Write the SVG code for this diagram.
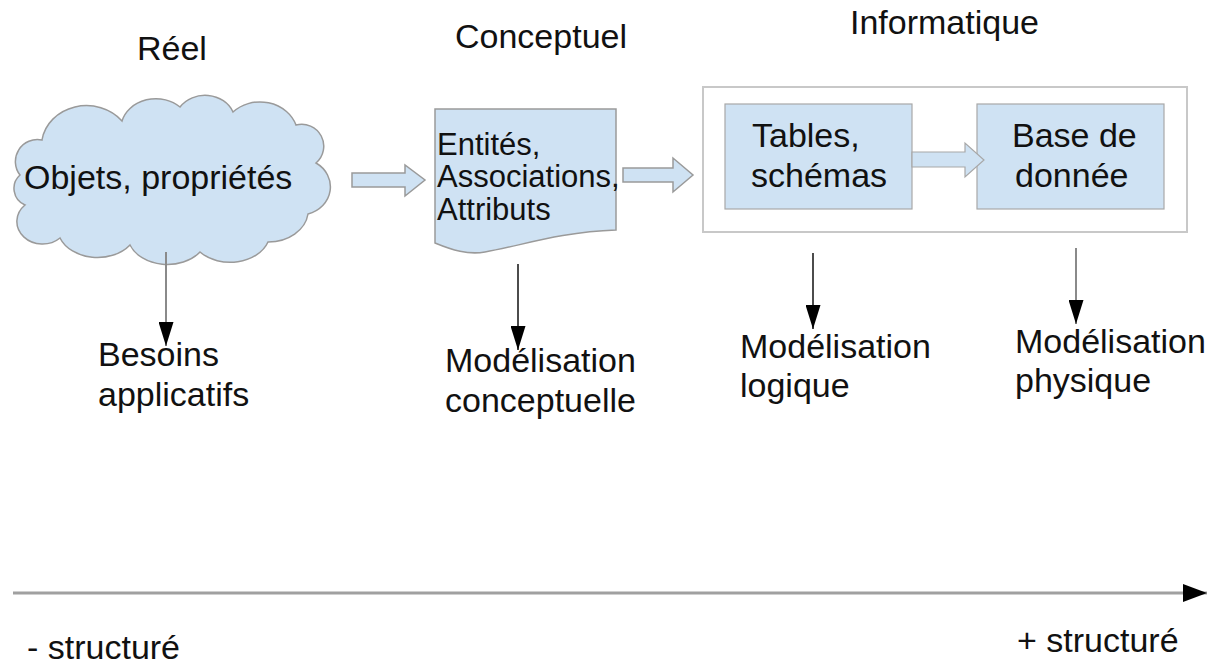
<svg xmlns="http://www.w3.org/2000/svg" width="1214" height="667" viewBox="0 0 1214 667">
  <defs>
    <style>
      text { font-family: "Liberation Sans", Arial, sans-serif; fill: #111; }
      .t34 { font-size: 34px; }
      .t31 { font-size: 31px; }
      .shape { fill: #cfe2f3; stroke: #9a9a9a; stroke-width: 1.5; }
      .box { fill: #cfe2f3; stroke: #a8a8a8; stroke-width: 1.2; }
      .frame { fill: #ffffff; stroke: #c8c8c8; stroke-width: 2; }
      .link { stroke: #111; stroke-width: 1.5; fill: none; }
      .link-grey { stroke: #8a8a8a; stroke-width: 2; fill: none; }
    </style>
    <marker id="tri" viewBox="0 0 24 15" refX="24" refY="7.5" markerWidth="24" markerHeight="15" markerUnits="userSpaceOnUse" orient="auto">
      <path d="M0,0 L24,7.5 L0,15 Z" fill="#000"/>
    </marker>
    <marker id="triAxis" viewBox="0 0 24 18" refX="24" refY="9" markerWidth="24" markerHeight="18" markerUnits="userSpaceOnUse" orient="auto">
      <path d="M0,0 L24,9 L0,18 Z" fill="#000"/>
    </marker>
  </defs>

  <!-- column headings -->
  <g id="headings">
    <text class="t34" x="137" y="60">Réel</text>
    <text class="t34" x="455" y="48">Conceptuel</text>
    <text class="t34" x="850" y="34">Informatique</text>
  </g>

  <!-- cloud: real-world objects -->
  <g id="node-reel">
    <path class="shape" d="M20,175
      A22,22 0 0 1 42,140
      A45,40 0 0 1 122,121
      A35,30 0 0 1 180,107
      A30,26 0 0 1 233,112
      A38,34 0 0 1 296,125
      A22,22 0 0 1 316,163
      A30,28 0 0 1 308,214
      A40,32 0 0 1 268,242
      A40,30 0 0 1 200,252
      A40,30 0 0 1 130,245
      A40,30 0 0 1 60,238
      A25,22 0 0 1 25,205
      A18,18 0 0 1 20,175 Z"/>
    <text class="t34" x="24" y="189">Objets, propriétés</text>
  </g>

  <!-- document: conceptual model -->
  <g id="node-conceptuel">
    <path class="shape" d="M435,109 H616 V230 C560,232 520,246 485,252 C468,255 452,250 435,243 Z"/>
    <text class="t31" x="437" y="155">Entités,</text>
    <text class="t31" x="437" y="187">Associations,</text>
    <text class="t31" x="437" y="220">Attributs</text>
  </g>

  <!-- computing frame -->
  <g id="node-informatique">
    <rect class="frame" x="703" y="87" width="484" height="145"/>
  </g>
  <g id="node-tables">
    <rect class="box" x="725" y="104" width="187" height="105"/>
    <text class="t34" x="752" y="147">Tables,</text>
    <text class="t34" x="751" y="187">schémas</text>
  </g>
  <g id="node-base">
    <rect class="box" x="977" y="104" width="187" height="105"/>
    <text class="t34" x="1012" y="147">Base de</text>
    <text class="t34" x="1015" y="187">donnée</text>
  </g>

  <!-- outcome labels -->
  <g id="label-besoins">
    <text class="t34" x="98" y="366">Besoins</text>
    <text class="t34" x="98" y="406">applicatifs</text>
  </g>
  <g id="label-conceptuelle">
    <text class="t34" x="445" y="372">Modélisation</text>
    <text class="t34" x="445" y="412">conceptuelle</text>
  </g>
  <g id="label-logique">
    <text class="t34" x="740" y="358">Modélisation</text>
    <text class="t34" x="740" y="397">logique</text>
  </g>
  <g id="label-physique">
    <text class="t34" x="1015" y="353">Modélisation</text>
    <text class="t34" x="1015" y="392">physique</text>
  </g>

  <!-- connectors -->
  <g id="connectors">
    <!-- block arrows -->
    <path class="shape" d="M352,173 H405 V165 L425,180 L405,196 V187 H352 Z"/>
    <path class="shape" d="M623,168 H673 V158 L693,175 L673,192 V182 H623 Z"/>
    <path class="box" d="M912,152 H965 V143 L984,160 L965,177 V167 H912 Z"/>
    <!-- downward arrows -->
    <line class="link-grey" x1="166" y1="252" x2="166" y2="346" marker-end="url(#tri)"/>
    <line class="link" x1="518" y1="264" x2="518" y2="350" marker-end="url(#tri)"/>
    <line class="link" x1="813" y1="253" x2="813" y2="329" marker-end="url(#tri)"/>
    <line class="link-grey" x1="1076" y1="248" x2="1076" y2="324" marker-end="url(#tri)"/>
    <!-- structure axis -->
    <line x1="13" y1="593" x2="1207" y2="593" stroke="#a0a0a0" stroke-width="3" marker-end="url(#triAxis)"/>
  </g>

  <!-- axis labels -->
  <g id="axis-labels">
    <text class="t34" x="27" y="659">- structuré</text>
    <text class="t34" x="1017" y="652">+ structuré</text>
  </g>
</svg>
